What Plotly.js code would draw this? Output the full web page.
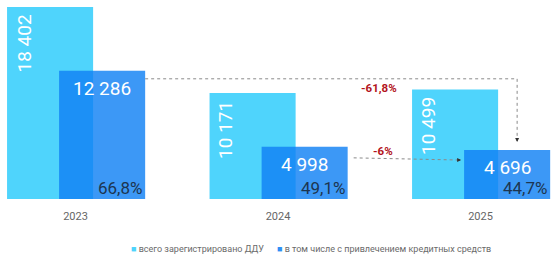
<!DOCTYPE html>
<html>
<head>
<meta charset="utf-8">
<script src="https://cdn.plot.ly/plotly-3.0.1.min.js"></script>
<style>html,body{margin:0;padding:0;background:#fff}#chart{width:556px;height:261px}</style>
</head>
<body>
<div id="chart"></div>
<script>
const years = ['2023', '2024', '2025'];
const totalDDU = [18402, 10171, 10499];
const creditDDU = [12286, 4998, 4696];
const creditShare = ['66,8%', '49,1%', '44,7%'];
const changeLabels = ['-61,8%', '-6%'];
const seriesNames = ['всего зарегистрировано ДДУ', 'в том числе с привлечением кредитных средств'];

const lightColor = '#4fd4fc';
const darkColor = 'rgba(17,129,244,0.82)';
const fontFam = 'Roboto, "Liberation Sans", Arial, sans-serif';

const xs = years.map((_, i) => i);
const W = 0.425, LO = -0.338, DO = -0.081;
const plotH = 192, yMax = 18402;
const upy = yMax / plotH;   // data units per pixel (vertical)
const upx = 1 / 202.5;      // data units per pixel (horizontal)
const fmt = v => String(v).replace(/\B(?=(\d{3})+(?!\d))/g, ' ');

const traces = [
  {type: 'bar', x: xs, y: totalDDU, name: seriesNames[0], offset: LO, width: W,
   marker: {color: lightColor, line: {width: 0}}, hoverinfo: 'skip'},
  {type: 'bar', x: xs, y: creditDDU, name: seriesNames[1], offset: DO, width: W,
   marker: {color: darkColor, line: {width: 0}}, hoverinfo: 'skip'}
];

const ann = [];
xs.forEach(i => {
  ann.push({x: i + LO, y: totalDDU[i], xref: 'x', yref: 'y', text: fmt(totalDDU[i]),
    textangle: -90, xanchor: 'left', yanchor: 'top', xshift: 3, yshift: -6, showarrow: false,
    font: {family: fontFam, size: 19, color: '#ffffff'}});
  ann.push({x: i + DO + W / 2, y: creditDDU[i], xref: 'x', yref: 'y', text: fmt(creditDDU[i]),
    xanchor: 'center', yanchor: 'top', yshift: -4, showarrow: false,
    font: {family: fontFam, size: 19, color: '#ffffff'}});
  ann.push({x: i + DO + W, y: 0, xref: 'x', yref: 'y', text: creditShare[i],
    xanchor: 'right', yanchor: 'bottom', xshift: -1, yshift: -1, showarrow: false,
    font: {family: fontFam, size: 17, color: '#1d3550'}});
});

// change annotations
const xA0 = 0 + DO + W, yA = creditDDU[0] - 8 * upy;
const xA1 = 2 + DO + W / 2 + 10 * upx, yA1 = creditDDU[2] + 8 * upy;
const xB0 = 1 + DO + W + 6 * upx, yB0 = creditDDU[1] - 11 * upy;
const xB1 = 2 + DO - 3 * upx, yB1 = creditDDU[2] - 10 * upy;

const shapes = [
  {type: 'path', xref: 'x', yref: 'y',
   path: `M${xA0},${yA} L${xA1},${yA} L${xA1},${yA1 + 3 * upy}`,
   line: {color: '#8a8a8a', width: 1, dash: 'dot'}},
  {type: 'line', xref: 'x', yref: 'y', x0: xB0, y0: yB0, x1: xB1 - 3 * upx, y1: yB1,
   line: {color: '#8a8a8a', width: 1, dash: 'dot'}}
];

ann.push({x: xA1, y: yA1, xref: 'x', yref: 'y', ax: 0, ay: -4, text: '', showarrow: true,
  arrowhead: 2, arrowsize: 0.8, arrowwidth: 1, arrowcolor: '#333', standoff: 0});
ann.push({x: xB1, y: yB1, xref: 'x', yref: 'y', ax: -4, ay: 0, text: '', showarrow: true,
  arrowhead: 2, arrowsize: 0.8, arrowwidth: 1, arrowcolor: '#333', standoff: 0});

ann.push({x: 1.5, y: creditDDU[0] - 17 * upy, xref: 'x', yref: 'y', text: '<b>' + changeLabels[0] + '</b>',
  showarrow: false, font: {family: fontFam, size: 11.5, color: '#b3141c'}});
ann.push({x: 1.52, y: creditDDU[1] - 4 * upy, xref: 'x', yref: 'y', text: '<b>' + changeLabels[1] + '</b>',
  showarrow: false, font: {family: fontFam, size: 11.5, color: '#b3141c'}});

// legend
ann.push({x: 129 / 556, y: -0.26, xref: 'paper', yref: 'paper', xanchor: 'left', yanchor: 'middle',
  text: '<span style="color:' + lightColor + '">■</span> ' + seriesNames[0], showarrow: false,
  font: {family: fontFam, size: 9, color: '#6a6a6a'}});
ann.push({x: 275 / 556, y: -0.26, xref: 'paper', yref: 'paper', xanchor: 'left', yanchor: 'middle',
  text: '<span style="color:#2f8ff4">■</span> ' + seriesNames[1], showarrow: false,
  font: {family: fontFam, size: 9, color: '#6a6a6a'}});

const layout = {
  width: 556, height: 261,
  margin: {l: 0, r: 0, t: 7, b: 62, pad: 0},
  paper_bgcolor: '#ffffff', plot_bgcolor: '#ffffff',
  barmode: 'overlay', showlegend: false,
  xaxis: {range: [-0.3728, 2.3728], tickvals: xs, ticktext: years, showgrid: false, zeroline: false,
    showline: false, ticks: '', ticklabelstandoff: 9,
    tickfont: {family: fontFam, size: 11, color: '#666666'}, fixedrange: true},
  yaxis: {range: [0, yMax], visible: false, fixedrange: true},
  annotations: ann, shapes: shapes,
  font: {family: fontFam}
};

Plotly.newPlot('chart', traces, layout, {displayModeBar: false, staticPlot: true});
</script>
</body>
</html>
